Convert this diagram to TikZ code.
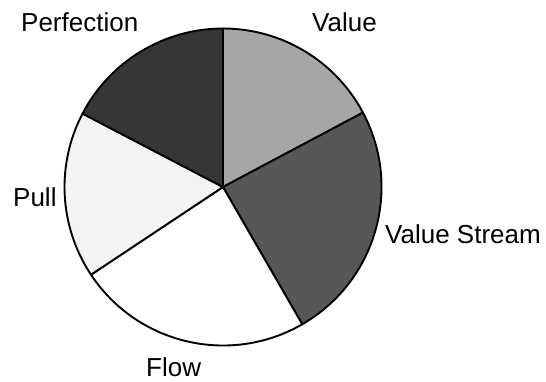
\documentclass[tikz,border=0pt]{standalone}
\usepackage{fontspec}
\setmainfont{Liberation Sans}
\begin{document}
\begin{tikzpicture}[x=1pt,y=1pt,
  slice/.style={line width=1.9pt, line join=round},
  lbl/.style={anchor=base west, inner sep=0pt, font=\fontsize{26}{31}\selectfont}]
\definecolor{cValue}{RGB}{166,166,166}
\definecolor{cStream}{RGB}{87,87,87}
\definecolor{cFlow}{RGB}{255,255,255}
\definecolor{cPull}{RGB}{243,243,243}
\definecolor{cPerf}{RGB}{54,54,54}
\useasboundingbox (0,0) rectangle (546,381);
\def\R{158.5}
\coordinate (c) at (223,194);
% slices: start angle, end angle, colour
\foreach \a/\b/\col in {28/90/cValue, -60/28/cStream, -146.4/-60/cFlow, 152.4/213.6/cPull, 90/152.4/cPerf}{
  \filldraw[slice, fill=\col] (c) -- ++(\a:\R) arc[start angle=\a, end angle=\b, radius=\R] -- cycle;
}
\node[lbl] (perf) at (21,349) {Perfection};
\node[lbl] (value) at (312,349) {Value};
\node[lbl] (stream) at (385,138) {Value Stream};
\node[lbl] (pull) at (13,174.5) {Pull};
\node[lbl] (flow) at (146,5) {Flow};
\end{tikzpicture}
\end{document}
